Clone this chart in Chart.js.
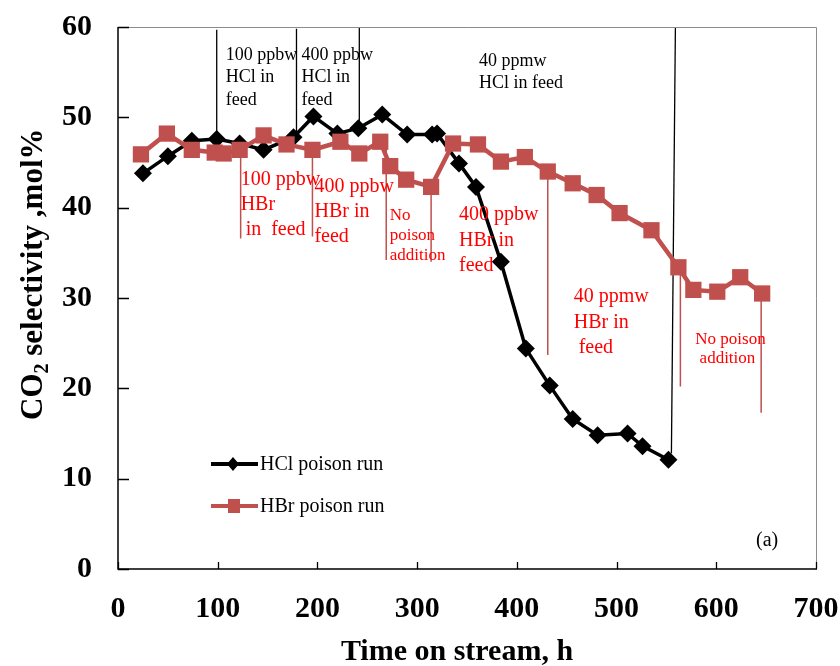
<!DOCTYPE html>
<html>
<head>
<meta charset="utf-8">
<script src="https://cdn.jsdelivr.net/npm/chart.js@4.4.0/dist/chart.umd.min.js"></script>
<style>
  html, body { margin: 0; padding: 0; background: #fff; }
</style>
</head>
<body>
<canvas id="grafico" width="840" height="666"></canvas>
<script>
// Datos: tiempo en corriente (h) y selectividad a CO2 (mol%)
const hclTime = [25, 50, 74, 99, 122, 146, 176, 196, 220, 241, 265, 290, 315, 320, 342, 359, 384, 409, 433, 456, 481, 511, 526, 552];
const hclSel = [43.8, 45.7, 47.4, 47.6, 47.1, 46.4, 47.8, 50.1, 48.2, 48.8, 50.3, 48.1, 48.1, 48.2, 44.9, 42.3, 34.0, 24.4, 20.3, 16.6, 14.8, 15.0, 13.6, 12.1];

const hbrTime = [23, 49, 74, 97, 106, 122, 146, 169, 195, 223, 242, 263, 273, 289, 314, 336, 361, 384, 408, 431, 456, 480, 503, 535, 562, 577, 601, 624, 646];
const hbrSel = [45.9, 48.2, 46.4, 46.1, 46.0, 46.4, 48.0, 47.0, 46.4, 47.3, 46.0, 47.3, 44.6, 43.1, 42.3, 47.1, 47.0, 45.1, 45.6, 44.0, 42.7, 41.4, 39.4, 37.5, 33.4, 30.9, 30.7, 32.3, 30.5];

// Marcas de cambio de alimentación: [tiempo arriba, tiempo abajo], [sel. arriba, sel. abajo]
const hclMarkTime = [[99, 99], [179, 179], [242, 242], [559, 555]];
const hclMarkSel = [[59.7, 47.6], [59.8, 47.8], [60, 48.8], [60, 12.8]];
const hbrMarkTime = [[123, 123], [195, 195], [269, 269], [314, 314], [431, 431], [564, 564], [645, 645]];
const hbrMarkSel = [[46.4, 36.6], [46.4, 36.8], [47.0, 34.2], [42.3, 34.0], [44.0, 23.7], [33.4, 20.2], [30.5, 17.3]];

const xTicks = [0, 100, 200, 300, 400, 500, 600, 700];
const yTicks = [0, 10, 20, 30, 40, 50, 60];

const ROJO = '#c0504d';
const SERIF = "'Liberation Serif', 'Times New Roman', serif";

Chart.defaults.font.family = SERIF;
Chart.defaults.color = '#000';

const toPoints = (xs, ys) => xs.map((x, i) => ({ x: x, y: ys[i] }));

// Textos de anotación (posición en unidades de los ejes)
const notas = [
  { x: 108, y: 56.9, lh: 22.5, size: 18, color: '#000', lines: ['100 ppbw', 'HCl in', 'feed'] },
  { x: 184, y: 56.9, lh: 22.5, size: 18, color: '#000', lines: ['400 ppbw', 'HCl in', 'feed'] },
  { x: 362, y: 56.2, lh: 21.7, size: 18, color: '#000', lines: ['40 ppmw', 'HCl in feed'] },
  { x: 123, y: 43.1, lh: 25, size: 20, color: '#ff0000', lines: ['100 ppbw', 'HBr', ' in  feed'] },
  { x: 197, y: 42.3, lh: 25, size: 20, color: '#ff0000', lines: ['400 ppbw', 'HBr in', 'feed'] },
  { x: 272.5, y: 39.1, lh: 20, size: 17, color: '#ff0000', lines: ['No', 'poison', 'addition'] },
  { x: 342, y: 39.2, lh: 25.5, size: 20, color: '#ff0000', lines: ['400 ppbw', 'HBr in', 'feed'] },
  { x: 457, y: 30.1, lh: 25.3, size: 20, color: '#ff0000', lines: ['40 ppmw', 'HBr in', ' feed'] },
  { x: 579, y: 25.4, lh: 18.5, size: 17, color: '#ff0000', lines: ['No poison', ' addition'] }
];

const datasets = [
  {
    label: 'HBr poison run',
    data: toPoints(hbrTime, hbrSel),
    borderColor: ROJO,
    backgroundColor: ROJO,
    borderWidth: 4.5,
    pointStyle: 'rect',
    pointRadius: 11.5,
    pointBorderWidth: 0,
    order: 1
  },
  {
    label: 'HCl poison run',
    data: toPoints(hclTime, hclSel),
    borderColor: '#000',
    backgroundColor: '#000',
    borderWidth: 3.5,
    pointStyle: 'rectRot',
    pointRadius: 9,
    pointBorderWidth: 0,
    order: 2
  }
];

hclMarkTime.forEach((t, i) => {
  datasets.push({
    data: toPoints(t, hclMarkSel[i]),
    borderColor: '#000', borderWidth: 1.3, pointRadius: 0, order: 3
  });
});
hbrMarkTime.forEach((t, i) => {
  datasets.push({
    data: toPoints(t, hbrMarkSel[i]),
    borderColor: ROJO, borderWidth: 1.5, pointRadius: 0, order: 3
  });
});

// Marco, marcas de ejes hacia dentro, títulos, leyenda y textos
const extras = {
  id: 'extras',
  afterDraw(chart) {
    const ctx = chart.ctx;
    const a = chart.chartArea;
    const xs = chart.scales.x, ys = chart.scales.y;
    ctx.save();

    // marco
    ctx.strokeStyle = '#8c8c8c';
    ctx.lineWidth = 1;
    ctx.beginPath();
    ctx.moveTo(a.left, a.top + 0.5); ctx.lineTo(a.right + 0.5, a.top + 0.5); ctx.lineTo(a.right + 0.5, a.bottom);
    ctx.stroke();
    ctx.strokeStyle = '#000';
    ctx.lineWidth = 1.5;
    ctx.beginPath();
    ctx.moveTo(a.left, a.top); ctx.lineTo(a.left, a.bottom); ctx.lineTo(a.right + 1, a.bottom);
    ctx.stroke();

    // marcas
    ctx.lineWidth = 1.3;
    ctx.beginPath();
    yTicks.forEach(v => {
      const py = Math.round(ys.getPixelForValue(v)) + 0.5;
      ctx.moveTo(a.left, py); ctx.lineTo(a.left + 11, py);
    });
    xTicks.forEach(v => {
      const px = Math.round(xs.getPixelForValue(v)) + 0.5;
      ctx.moveTo(px, a.bottom); ctx.lineTo(px, a.bottom - 7);
    });
    ctx.stroke();

    // textos de anotación
    notas.forEach(n => {
      ctx.fillStyle = n.color;
      ctx.font = n.size + 'px ' + SERIF;
      ctx.textAlign = 'left';
      ctx.textBaseline = 'middle';
      const x0 = xs.getPixelForValue(n.x);
      const y0 = ys.getPixelForValue(n.y);
      n.lines.forEach((t, i) => ctx.fillText(t, x0, y0 + i * n.lh));
    });

    // leyenda
    const items = [
      { ds: chart.data.datasets[1], y: 464, square: false },
      { ds: chart.data.datasets[0], y: 506, square: true }
    ];
    items.forEach(it => {
      ctx.strokeStyle = it.ds.borderColor;
      ctx.fillStyle = it.ds.borderColor;
      ctx.lineWidth = 4;
      ctx.beginPath();
      ctx.moveTo(211, it.y); ctx.lineTo(258, it.y);
      ctx.stroke();
      ctx.beginPath();
      if (it.square) {
        ctx.rect(228, it.y - 7, 12, 14);
      } else {
        ctx.moveTo(233, it.y - 7); ctx.lineTo(239, it.y); ctx.lineTo(233, it.y + 7); ctx.lineTo(227, it.y);
        ctx.closePath();
      }
      ctx.fill();
      ctx.fillStyle = '#000';
      ctx.font = '20px ' + SERIF;
      ctx.textAlign = 'left';
      ctx.textBaseline = 'middle';
      ctx.fillText(it.ds.label, 260, it.y + 1);
    });

    ctx.font = '20px ' + SERIF;
    ctx.fillText('(a)', 756, 541);

    // título eje x
    ctx.font = 'bold 30px ' + SERIF;
    ctx.textAlign = 'center';
    ctx.textBaseline = 'alphabetic';
    ctx.fillText('Time on stream, h', 457, 660);

    // título eje y con subíndice
    ctx.translate(42, 420);
    ctx.rotate(-Math.PI / 2);
    ctx.textAlign = 'left';
    ctx.font = 'bold 31px ' + SERIF;
    ctx.fillText('CO', 0, 0);
    let w = ctx.measureText('CO').width;
    ctx.font = 'bold 20px ' + SERIF;
    ctx.fillText('2', w, 6);
    w += ctx.measureText('2').width;
    ctx.font = 'bold 31px ' + SERIF;
    ctx.fillText(' selectivity ,mol%', w, 0);

    ctx.restore();
  }
};

new Chart(document.getElementById('grafico').getContext('2d'), {
  type: 'line',
  data: { datasets: datasets },
  options: {
    responsive: false,
    animation: false,
    devicePixelRatio: 1,
    layout: { padding: { left: 0, right: 24, top: 27, bottom: 0 } },
    plugins: {
      legend: { display: false },
      tooltip: { enabled: false }
    },
    elements: { line: { tension: 0 } },
    scales: {
      x: {
        type: 'linear',
        min: 0, max: 700,
        grid: { display: false, drawTicks: false },
        border: { display: false },
        afterBuildTicks: s => { s.ticks = xTicks.map(v => ({ value: v })); },
        afterFit: s => { s.height = 97; s.paddingLeft = 0; s.paddingRight = 0; },
        ticks: { font: { size: 30, weight: 'bold' }, padding: 22, maxRotation: 0, autoSkip: false }
      },
      y: {
        min: 0, max: 60,
        grid: { display: false, drawTicks: false },
        border: { display: false },
        afterBuildTicks: s => { s.ticks = yTicks.map(v => ({ value: v })); },
        afterFit: s => { s.width = 118; s.paddingTop = 0; s.paddingBottom = 0; },
        ticks: { font: { size: 30, weight: 'bold' }, padding: 26 }
      }
    }
  },
  plugins: [extras]
});
</script>
</body>
</html>
